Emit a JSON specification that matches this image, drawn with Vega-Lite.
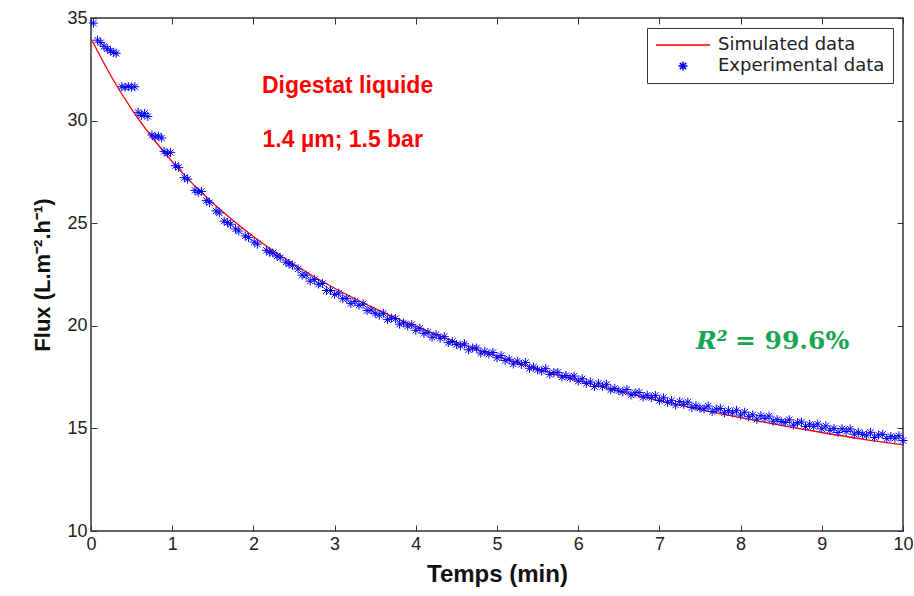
{
  "$schema": "https://vega.github.io/schema/vega-lite/v6.json",
  "width": 812,
  "height": 513,
  "autosize": {"type": "none"},
  "padding": {"left": 91, "top": 18, "right": 11, "bottom": 65},
  "background": "white",
  "config": {"view": {"stroke": "#333333", "strokeWidth": 1.5}, "font": "Liberation Sans"},
  "datasets": {
    "sim": [
      {"series": "Simulated data", "t": 0, "flux": 34.0},
      {"series": "Simulated data", "t": 0.25, "flux": 32.15},
      {"series": "Simulated data", "t": 0.5, "flux": 30.56},
      {"series": "Simulated data", "t": 0.75, "flux": 29.2},
      {"series": "Simulated data", "t": 1, "flux": 28.0},
      {"series": "Simulated data", "t": 1.25, "flux": 26.93},
      {"series": "Simulated data", "t": 1.5, "flux": 25.98},
      {"series": "Simulated data", "t": 1.75, "flux": 25.13},
      {"series": "Simulated data", "t": 2, "flux": 24.35},
      {"series": "Simulated data", "t": 2.5, "flux": 22.99},
      {"series": "Simulated data", "t": 3, "flux": 21.83},
      {"series": "Simulated data", "t": 3.5, "flux": 20.84},
      {"series": "Simulated data", "t": 4, "flux": 19.97},
      {"series": "Simulated data", "t": 4.5, "flux": 19.2},
      {"series": "Simulated data", "t": 5, "flux": 18.51},
      {"series": "Simulated data", "t": 5.5, "flux": 17.89},
      {"series": "Simulated data", "t": 6, "flux": 17.33},
      {"series": "Simulated data", "t": 6.5, "flux": 16.82},
      {"series": "Simulated data", "t": 7, "flux": 16.35},
      {"series": "Simulated data", "t": 7.5, "flux": 15.92},
      {"series": "Simulated data", "t": 8, "flux": 15.52},
      {"series": "Simulated data", "t": 8.5, "flux": 15.15},
      {"series": "Simulated data", "t": 9, "flux": 14.8},
      {"series": "Simulated data", "t": 9.5, "flux": 14.48},
      {"series": "Simulated data", "t": 10, "flux": 14.2}
    ],
    "exp": [
      {"series": "Experimental data", "t": 0.03, "flux": 34.75},
      {"series": "Experimental data", "t": 0.08, "flux": 33.92},
      {"series": "Experimental data", "t": 0.12, "flux": 33.8},
      {"series": "Experimental data", "t": 0.16, "flux": 33.62},
      {"series": "Experimental data", "t": 0.2, "flux": 33.5},
      {"series": "Experimental data", "t": 0.24, "flux": 33.4},
      {"series": "Experimental data", "t": 0.28, "flux": 33.32},
      {"series": "Experimental data", "t": 0.31, "flux": 33.28},
      {"series": "Experimental data", "t": 0.38, "flux": 31.65},
      {"series": "Experimental data", "t": 0.42, "flux": 31.62},
      {"series": "Experimental data", "t": 0.46, "flux": 31.66},
      {"series": "Experimental data", "t": 0.5, "flux": 31.63},
      {"series": "Experimental data", "t": 0.54, "flux": 31.65},
      {"series": "Experimental data", "t": 0.58, "flux": 30.4},
      {"series": "Experimental data", "t": 0.62, "flux": 30.25},
      {"series": "Experimental data", "t": 0.66, "flux": 30.35},
      {"series": "Experimental data", "t": 0.7, "flux": 30.2},
      {"series": "Experimental data", "t": 0.75, "flux": 29.3},
      {"series": "Experimental data", "t": 0.79, "flux": 29.2},
      {"series": "Experimental data", "t": 0.83, "flux": 29.25},
      {"series": "Experimental data", "t": 0.87, "flux": 29.15},
      {"series": "Experimental data", "t": 0.9, "flux": 28.5},
      {"series": "Experimental data", "t": 0.94, "flux": 28.4},
      {"series": "Experimental data", "t": 0.98, "flux": 28.45},
      {"series": "Experimental data", "t": 1.04, "flux": 27.8},
      {"series": "Experimental data", "t": 1.08, "flux": 27.72},
      {"series": "Experimental data", "t": 1.15, "flux": 27.22},
      {"series": "Experimental data", "t": 1.19, "flux": 27.15},
      {"series": "Experimental data", "t": 1.28, "flux": 26.6},
      {"series": "Experimental data", "t": 1.32, "flux": 26.5},
      {"series": "Experimental data", "t": 1.36, "flux": 26.55},
      {"series": "Experimental data", "t": 1.42, "flux": 26.1},
      {"series": "Experimental data", "t": 1.46, "flux": 26.0},
      {"series": "Experimental data", "t": 1.54, "flux": 25.6},
      {"series": "Experimental data", "t": 1.58, "flux": 25.5},
      {"series": "Experimental data", "t": 1.64, "flux": 25.1},
      {"series": "Experimental data", "t": 1.68, "flux": 25.03},
      {"series": "Experimental data", "t": 1.72, "flux": 24.95},
      {"series": "Experimental data", "t": 1.78, "flux": 24.72},
      {"series": "Experimental data", "t": 1.82, "flux": 24.62},
      {"series": "Experimental data", "t": 1.9, "flux": 24.38},
      {"series": "Experimental data", "t": 1.94, "flux": 24.3},
      {"series": "Experimental data", "t": 2.01, "flux": 24.08},
      {"series": "Experimental data", "t": 2.05, "flux": 23.98},
      {"series": "Experimental data", "t": 2.16, "flux": 23.68},
      {"series": "Experimental data", "t": 2.2, "flux": 23.58},
      {"series": "Experimental data", "t": 2.24, "flux": 23.55},
      {"series": "Experimental data", "t": 2.29, "flux": 23.4},
      {"series": "Experimental data", "t": 2.33, "flux": 23.32},
      {"series": "Experimental data", "t": 2.4, "flux": 23.1},
      {"series": "Experimental data", "t": 2.44, "flux": 23.02},
      {"series": "Experimental data", "t": 2.48, "flux": 22.95},
      {"series": "Experimental data", "t": 2.55, "flux": 22.77},
      {"series": "Experimental data", "t": 2.6, "flux": 22.47},
      {"series": "Experimental data", "t": 2.65, "flux": 22.47},
      {"series": "Experimental data", "t": 2.7, "flux": 22.18},
      {"series": "Experimental data", "t": 2.75, "flux": 22.26},
      {"series": "Experimental data", "t": 2.8, "flux": 22.03},
      {"series": "Experimental data", "t": 2.85, "flux": 22.06},
      {"series": "Experimental data", "t": 2.9, "flux": 21.72},
      {"series": "Experimental data", "t": 2.95, "flux": 21.72},
      {"series": "Experimental data", "t": 3.0, "flux": 21.53},
      {"series": "Experimental data", "t": 3.05, "flux": 21.59},
      {"series": "Experimental data", "t": 3.1, "flux": 21.32},
      {"series": "Experimental data", "t": 3.15, "flux": 21.34},
      {"series": "Experimental data", "t": 3.2, "flux": 21.08},
      {"series": "Experimental data", "t": 3.25, "flux": 21.19},
      {"series": "Experimental data", "t": 3.3, "flux": 21.0},
      {"series": "Experimental data", "t": 3.35, "flux": 21.06},
      {"series": "Experimental data", "t": 3.4, "flux": 20.74},
      {"series": "Experimental data", "t": 3.45, "flux": 20.77},
      {"series": "Experimental data", "t": 3.5, "flux": 20.61},
      {"series": "Experimental data", "t": 3.55, "flux": 20.52},
      {"series": "Experimental data", "t": 3.6, "flux": 20.61},
      {"series": "Experimental data", "t": 3.65, "flux": 20.3},
      {"series": "Experimental data", "t": 3.7, "flux": 20.37},
      {"series": "Experimental data", "t": 3.75, "flux": 20.35},
      {"series": "Experimental data", "t": 3.8, "flux": 20.08},
      {"series": "Experimental data", "t": 3.85, "flux": 20.14},
      {"series": "Experimental data", "t": 3.9, "flux": 19.99},
      {"series": "Experimental data", "t": 3.95, "flux": 20.06},
      {"series": "Experimental data", "t": 4.0, "flux": 19.78},
      {"series": "Experimental data", "t": 4.05, "flux": 19.88},
      {"series": "Experimental data", "t": 4.1, "flux": 19.63},
      {"series": "Experimental data", "t": 4.15, "flux": 19.68},
      {"series": "Experimental data", "t": 4.2, "flux": 19.44},
      {"series": "Experimental data", "t": 4.25, "flux": 19.57},
      {"series": "Experimental data", "t": 4.3, "flux": 19.39},
      {"series": "Experimental data", "t": 4.35, "flux": 19.47},
      {"series": "Experimental data", "t": 4.4, "flux": 19.18},
      {"series": "Experimental data", "t": 4.45, "flux": 19.23},
      {"series": "Experimental data", "t": 4.5, "flux": 19.09},
      {"series": "Experimental data", "t": 4.55, "flux": 19.02},
      {"series": "Experimental data", "t": 4.6, "flux": 19.12},
      {"series": "Experimental data", "t": 4.65, "flux": 18.83},
      {"series": "Experimental data", "t": 4.7, "flux": 18.92},
      {"series": "Experimental data", "t": 4.75, "flux": 18.92},
      {"series": "Experimental data", "t": 4.8, "flux": 18.67},
      {"series": "Experimental data", "t": 4.85, "flux": 18.75},
      {"series": "Experimental data", "t": 4.9, "flux": 18.62},
      {"series": "Experimental data", "t": 4.95, "flux": 18.7},
      {"series": "Experimental data", "t": 5.0, "flux": 18.44},
      {"series": "Experimental data", "t": 5.05, "flux": 18.55},
      {"series": "Experimental data", "t": 5.1, "flux": 18.31},
      {"series": "Experimental data", "t": 5.15, "flux": 18.37},
      {"series": "Experimental data", "t": 5.2, "flux": 18.14},
      {"series": "Experimental data", "t": 5.25, "flux": 18.28},
      {"series": "Experimental data", "t": 5.3, "flux": 18.12},
      {"series": "Experimental data", "t": 5.35, "flux": 18.21},
      {"series": "Experimental data", "t": 5.4, "flux": 17.93},
      {"series": "Experimental data", "t": 5.45, "flux": 17.99},
      {"series": "Experimental data", "t": 5.5, "flux": 17.86},
      {"series": "Experimental data", "t": 5.55, "flux": 17.8},
      {"series": "Experimental data", "t": 5.6, "flux": 17.91},
      {"series": "Experimental data", "t": 5.65, "flux": 17.63},
      {"series": "Experimental data", "t": 5.7, "flux": 17.72},
      {"series": "Experimental data", "t": 5.75, "flux": 17.73},
      {"series": "Experimental data", "t": 5.8, "flux": 17.5},
      {"series": "Experimental data", "t": 5.85, "flux": 17.58},
      {"series": "Experimental data", "t": 5.9, "flux": 17.46},
      {"series": "Experimental data", "t": 5.95, "flux": 17.55},
      {"series": "Experimental data", "t": 6.0, "flux": 17.3},
      {"series": "Experimental data", "t": 6.05, "flux": 17.42},
      {"series": "Experimental data", "t": 6.1, "flux": 17.19},
      {"series": "Experimental data", "t": 6.15, "flux": 17.26},
      {"series": "Experimental data", "t": 6.2, "flux": 17.04},
      {"series": "Experimental data", "t": 6.25, "flux": 17.2},
      {"series": "Experimental data", "t": 6.3, "flux": 17.05},
      {"series": "Experimental data", "t": 6.35, "flux": 17.15},
      {"series": "Experimental data", "t": 6.4, "flux": 16.88},
      {"series": "Experimental data", "t": 6.45, "flux": 16.95},
      {"series": "Experimental data", "t": 6.5, "flux": 16.83},
      {"series": "Experimental data", "t": 6.55, "flux": 16.78},
      {"series": "Experimental data", "t": 6.6, "flux": 16.9},
      {"series": "Experimental data", "t": 6.65, "flux": 16.63},
      {"series": "Experimental data", "t": 6.7, "flux": 16.73},
      {"series": "Experimental data", "t": 6.75, "flux": 16.75},
      {"series": "Experimental data", "t": 6.8, "flux": 16.52},
      {"series": "Experimental data", "t": 6.85, "flux": 16.62},
      {"series": "Experimental data", "t": 6.9, "flux": 16.5},
      {"series": "Experimental data", "t": 6.95, "flux": 16.61},
      {"series": "Experimental data", "t": 7.0, "flux": 16.36},
      {"series": "Experimental data", "t": 7.05, "flux": 16.49},
      {"series": "Experimental data", "t": 7.1, "flux": 16.27},
      {"series": "Experimental data", "t": 7.15, "flux": 16.35},
      {"series": "Experimental data", "t": 7.2, "flux": 16.14},
      {"series": "Experimental data", "t": 7.25, "flux": 16.31},
      {"series": "Experimental data", "t": 7.3, "flux": 16.17},
      {"series": "Experimental data", "t": 7.35, "flux": 16.28},
      {"series": "Experimental data", "t": 7.4, "flux": 16.02},
      {"series": "Experimental data", "t": 7.45, "flux": 16.1},
      {"series": "Experimental data", "t": 7.5, "flux": 15.99},
      {"series": "Experimental data", "t": 7.55, "flux": 15.95},
      {"series": "Experimental data", "t": 7.6, "flux": 16.09},
      {"series": "Experimental data", "t": 7.65, "flux": 15.82},
      {"series": "Experimental data", "t": 7.7, "flux": 15.94},
      {"series": "Experimental data", "t": 7.75, "flux": 15.97},
      {"series": "Experimental data", "t": 7.8, "flux": 15.76},
      {"series": "Experimental data", "t": 7.85, "flux": 15.87},
      {"series": "Experimental data", "t": 7.9, "flux": 15.76},
      {"series": "Experimental data", "t": 7.95, "flux": 15.88},
      {"series": "Experimental data", "t": 8.0, "flux": 15.65},
      {"series": "Experimental data", "t": 8.05, "flux": 15.79},
      {"series": "Experimental data", "t": 8.1, "flux": 15.57},
      {"series": "Experimental data", "t": 8.15, "flux": 15.66},
      {"series": "Experimental data", "t": 8.2, "flux": 15.45},
      {"series": "Experimental data", "t": 8.25, "flux": 15.62},
      {"series": "Experimental data", "t": 8.3, "flux": 15.49},
      {"series": "Experimental data", "t": 8.35, "flux": 15.6},
      {"series": "Experimental data", "t": 8.4, "flux": 15.35},
      {"series": "Experimental data", "t": 8.45, "flux": 15.43},
      {"series": "Experimental data", "t": 8.5, "flux": 15.33},
      {"series": "Experimental data", "t": 8.55, "flux": 15.29},
      {"series": "Experimental data", "t": 8.6, "flux": 15.42},
      {"series": "Experimental data", "t": 8.65, "flux": 15.16},
      {"series": "Experimental data", "t": 8.7, "flux": 15.28},
      {"series": "Experimental data", "t": 8.75, "flux": 15.31},
      {"series": "Experimental data", "t": 8.8, "flux": 15.09},
      {"series": "Experimental data", "t": 8.85, "flux": 15.2},
      {"series": "Experimental data", "t": 8.9, "flux": 15.1},
      {"series": "Experimental data", "t": 8.95, "flux": 15.21},
      {"series": "Experimental data", "t": 9.0, "flux": 14.98},
      {"series": "Experimental data", "t": 9.05, "flux": 15.12},
      {"series": "Experimental data", "t": 9.1, "flux": 14.91},
      {"series": "Experimental data", "t": 9.15, "flux": 15.0},
      {"series": "Experimental data", "t": 9.2, "flux": 14.8},
      {"series": "Experimental data", "t": 9.25, "flux": 14.98},
      {"series": "Experimental data", "t": 9.3, "flux": 14.85},
      {"series": "Experimental data", "t": 9.35, "flux": 14.97},
      {"series": "Experimental data", "t": 9.4, "flux": 14.72},
      {"series": "Experimental data", "t": 9.45, "flux": 14.81},
      {"series": "Experimental data", "t": 9.5, "flux": 14.71},
      {"series": "Experimental data", "t": 9.55, "flux": 14.67},
      {"series": "Experimental data", "t": 9.6, "flux": 14.81},
      {"series": "Experimental data", "t": 9.65, "flux": 14.56},
      {"series": "Experimental data", "t": 9.7, "flux": 14.68},
      {"series": "Experimental data", "t": 9.75, "flux": 14.71},
      {"series": "Experimental data", "t": 9.8, "flux": 14.5},
      {"series": "Experimental data", "t": 9.85, "flux": 14.61},
      {"series": "Experimental data", "t": 9.9, "flux": 14.52},
      {"series": "Experimental data", "t": 9.95, "flux": 14.64},
      {"series": "Experimental data", "t": 10.0, "flux": 14.41}
    ]
  },
  "layer": [
    {
      "data": {"name": "sim"},
      "mark": {"type": "line", "strokeWidth": 1.3, "interpolate": "monotone"},
      "encoding": {
        "x": {"field": "t", "type": "quantitative", "scale": {"domain": [0, 10], "nice": false},
          "axis": {"orient": "bottom", "values": [0,1,2,3,4,5,6,7,8,9,10], "domain": false, "grid": false, "tickSize": -6, "tickColor": "#333333", "labelPadding": 10, "labelFont": "Liberation Sans", "labelFontSize": 18, "labelColor": "#222222", "labelFlush": false, "title": "Temps (min)", "titleFont": "Liberation Sans", "titleFontSize": 24, "titleFontWeight": "bold", "titleColor": "#111111", "titlePadding": 9}},
        "y": {"field": "flux", "type": "quantitative", "scale": {"domain": [10, 35], "nice": false, "zero": false},
          "axis": {"orient": "left", "values": [10,15,20,25,30,35], "domain": false, "grid": false, "tickSize": -6, "tickColor": "#333333", "labelPadding": 10, "labelFont": "Liberation Sans", "labelFontSize": 18, "labelColor": "#222222", "labelFlush": false, "title": "Flux (L.m⁻².h⁻¹)", "titleFont": "Liberation Sans", "titleFontSize": 22, "titleFontWeight": "bold", "titleColor": "#111111", "titlePadding": 12}},
        "color": {"field": "series", "type": "nominal",
          "scale": {"domain": ["Simulated data", "Experimental data"], "range": ["#ff0000", "#0000ff"]},
          "legend": {"title": null, "orient": "top-right", "offset": 10, "padding": 8, "strokeColor": "#333333", "fillColor": "white", "labelFont": "DejaVu Sans", "labelFontSize": 18, "labelLimit": 400, "labelColor": "#222222", "symbolSize": 81, "symbolStrokeWidth": 1.5, "symbolOffset": 19, "labelOffset": 26, "rowPadding": 3}}
      }
    },
    {
      "data": {"name": "exp"},
      "mark": {"type": "point", "filled": false, "strokeWidth": 1, "size": 81, "opacity": 1},
      "encoding": {
        "x": {"field": "t", "type": "quantitative",
          "axis": {"orient": "top", "values": [0,1,2,3,4,5,6,7,8,9,10], "domain": false, "grid": false, "labels": false, "tickSize": -6, "tickColor": "#333333", "title": null}},
        "y": {"field": "flux", "type": "quantitative",
          "axis": {"orient": "right", "values": [10,15,20,25,30,35], "domain": false, "grid": false, "labels": false, "tickSize": -6, "tickColor": "#333333", "title": null}},
        "color": {"field": "series", "type": "nominal",
          "scale": {"domain": ["Simulated data", "Experimental data"], "range": ["#ff0000", "#0000ff"]},
          "legend": {"title": null, "orient": "top-right", "offset": 10, "padding": 8, "strokeColor": "#333333", "fillColor": "white", "labelFont": "DejaVu Sans", "labelFontSize": 18, "labelLimit": 400, "labelColor": "#222222", "symbolSize": 81, "symbolStrokeWidth": 1.5, "symbolOffset": 19, "labelOffset": 26, "rowPadding": 3}},
        "shape": {"field": "series", "type": "nominal",
          "scale": {"domain": ["Simulated data", "Experimental data"], "range": ["M-6,0L6,0", "M-1,0L1,0M0,-1L0,1M-0.7,-0.7L0.7,0.7M-0.7,0.7L0.7,-0.7"]},
          "legend": {"title": null, "orient": "top-right", "offset": 10, "padding": 8, "strokeColor": "#333333", "fillColor": "white", "labelFont": "DejaVu Sans", "labelFontSize": 18, "labelLimit": 400, "labelColor": "#222222", "symbolSize": 81, "symbolStrokeWidth": 1.5, "symbolOffset": 19, "labelOffset": 26, "rowPadding": 3}}
      }
    },
    {
      "data": {"values": [{}]},
      "mark": {"type": "text", "text": "Digestat liquide", "font": "Liberation Sans", "fontSize": 23, "fontWeight": "bold", "color": "#ff0000", "align": "center", "baseline": "alphabetic"},
      "encoding": {
        "x": {"datum": 3.16, "type": "quantitative", "axis": null},
        "y": {"datum": 31.35, "type": "quantitative", "axis": null}
      }
    },
    {
      "data": {"values": [{}]},
      "mark": {"type": "text", "text": "1.4 µm; 1.5 bar", "font": "Liberation Sans", "fontSize": 23, "fontWeight": "bold", "color": "#ff0000", "align": "center", "baseline": "alphabetic"},
      "encoding": {
        "x": {"datum": 3.1, "type": "quantitative", "axis": null},
        "y": {"datum": 28.7, "type": "quantitative", "axis": null}
      }
    },
    {
      "data": {"values": [{}]},
      "mark": {"type": "text", "text": "R²", "font": "DejaVu Serif", "fontSize": 25, "fontWeight": "bold", "fontStyle": "italic", "color": "#1aa552", "align": "left", "baseline": "alphabetic"},
      "encoding": {
        "x": {"datum": 7.45, "type": "quantitative", "axis": null},
        "y": {"datum": 18.85, "type": "quantitative", "axis": null}
      }
    },
    {
      "data": {"values": [{}]},
      "mark": {"type": "text", "text": "= 99.6%", "font": "DejaVu Serif", "fontSize": 25, "fontWeight": "bold", "color": "#1aa552", "align": "left", "baseline": "alphabetic"},
      "encoding": {
        "x": {"datum": 7.93, "type": "quantitative", "axis": null},
        "y": {"datum": 18.85, "type": "quantitative", "axis": null}
      }
    }
  ],
  "resolve": {"axis": {"x": "independent", "y": "independent"}}
}
